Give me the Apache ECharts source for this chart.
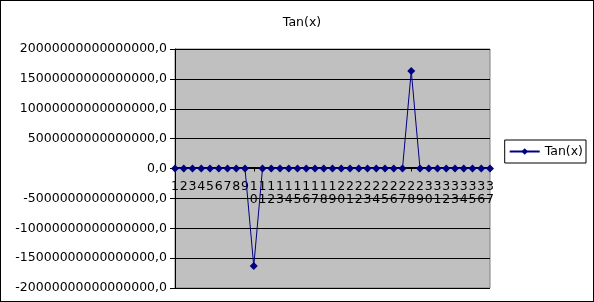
<!DOCTYPE html>
<html><head><meta charset="utf-8">
<script src="https://cdn.jsdelivr.net/npm/echarts@6/dist/echarts.min.js"></script>
<style>html,body{margin:0;padding:0;background:#fff}#c{width:594px;height:302px;box-sizing:border-box;border:1px solid #000}</style>
</head><body><div id="c"></div>
<script>
var categories = ['1','2','3','4','5','6','7','8','9','10','11','12','13','14','15','16','17','18','19','20','21','22','23','24','25','26','27','28','29','30','31','32','33','34','35','36','37'];
var seriesName = 'Tan(x)';
var values = [0,0,0,0,0,0,0,0,0,-1.633e16,0,0,0,0,0,0,0,0,0,0,0,0,0,0,0,0,0,1.633e16,0,0,0,0,0,0,0,0,0];
var yMin = -2e16, yMax = 2e16, yInterval = 5e15;

var chart = echarts.init(document.getElementById('c'), null, {renderer:'canvas'});
var font = 'DejaVu Sans';
var gridTop = 48, gridBottom = 13, H = 302;
var plotH = H - gridTop - gridBottom;
chart.setOption({
  animation:false,
  title:{text:'Tan(x)', left:296, top:10, textAlign:'center',
    textStyle:{fontFamily:font, fontSize:12.5, fontWeight:'normal', color:'#000'}},
  grid:{left:174, right:103, top:gridTop, bottom:gridBottom, outerBoundsMode:'none', containLabel:false,
    show:true, backgroundColor:'#C0C0C0', borderColor:'#808080', borderWidth:1},
  legend:{show:true, right:7, top:139, orient:'vertical', borderColor:'#000', borderWidth:1, padding:[5,3,5,4],
    itemWidth:30, itemHeight:8, itemGap:0,
    textStyle:{fontFamily:font, fontSize:12.5, color:'#000'}, data:[seriesName]},
  xAxis:{type:'category', data:categories, boundaryGap:false, position:'bottom', offset:-(plotH/2),
    axisLine:{onZero:false, lineStyle:{color:'#000', width:1}},
    axisTick:{show:true, inside:false, length:4, lineStyle:{color:'#000'}},
    axisLabel:{interval:0, margin:13, fontFamily:font, fontSize:12.5, color:'#000', lineHeight:13,
      formatter:function(v){return v.split('').join('\n');}},
    splitLine:{show:false}},
  yAxis:{type:'value', min:yMin, max:yMax, interval:yInterval,
    axisLine:{show:true, lineStyle:{color:'#000'}},
    axisTick:{show:true, length:5, lineStyle:{color:'#000'}},
    axisLabel:{margin:8, fontFamily:font, fontSize:12.5, color:'#000',
      formatter:function(v){return v.toFixed(1).replace('.',',');}},
    splitLine:{show:true, lineStyle:{color:'#000', width:1}}},
  series:[{name:seriesName, type:'line', data:values, symbol:'diamond', symbolSize:8,
    itemStyle:{color:'#000080'}, lineStyle:{color:'#000080', width:1}}]
});
</script></body></html>
